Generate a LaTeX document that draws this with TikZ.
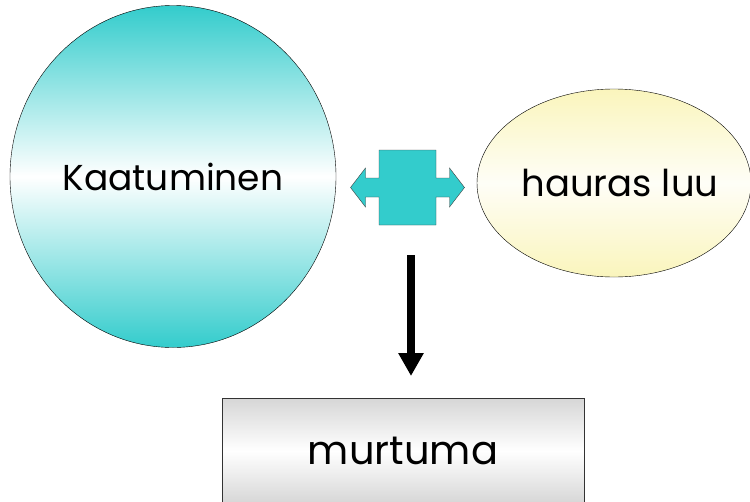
\documentclass[tikz,border=0pt]{standalone}
\usepackage{fontspec}
\setmainfont{Poppins}
\usepackage{tikz}
\usetikzlibrary{shapes.geometric,arrows.meta,positioning}
\definecolor{turkoosi}{RGB}{51,204,204}
\definecolor{keltainen}{RGB}{250,245,188}
\definecolor{harmaa}{RGB}{214,214,214}
% liukuvarit: reunat värillisiä, keskikohta vaalea
\pgfdeclareverticalshading{turkoosivarjo}{100bp}{color(0bp)=(turkoosi); color(25bp)=(turkoosi); color(50bp)=(white); color(75bp)=(turkoosi); color(100bp)=(turkoosi)}
\pgfdeclareverticalshading{keltavarjo}{100bp}{color(0bp)=(keltainen); color(25bp)=(keltainen); color(50bp)=(white!70!keltainen!40!white); color(75bp)=(keltainen); color(100bp)=(keltainen)}
\pgfdeclareverticalshading{harmaavarjo}{100bp}{color(0bp)=(harmaa); color(25bp)=(harmaa); color(50bp)=(white); color(75bp)=(harmaa); color(100bp)=(harmaa)}
\tikzset{
  teksti/.style={font=\fontsize{36}{42}\selectfont},
  pallo/.style={ellipse,draw=black,thin,inner sep=0pt,teksti},
  laatikko/.style={rectangle,draw=gray!40!black,line width=1pt,shading=harmaavarjo,font=\fontsize{40}{46}\selectfont},
  nuoli/.style={line width=8pt,-{Triangle[width=24pt,length=23pt]}},
  kaksoisnuoli/.style={fill=turkoosi,draw=gray!50!black,thin}
}

\begin{document}
\begin{tikzpicture}[x=1pt,y=-1pt]
\useasboundingbox (0,0) rectangle (750,501);
\clip (0,0) rectangle (750,501);
% syy ja altistava tekijä
\node[pallo,shading=turkoosivarjo,minimum width=326pt,minimum height=342pt] (kaatuminen) at (173,176.5) {Kaatuminen};
\node[pallo,shading=keltavarjo,minimum width=274pt,minimum height=188pt,font=\fontsize{37}{43}\selectfont] (luu) at (614,183) {\makebox[180pt]{\hspace*{12pt}hauras luu}};
% seuraus
\node[laatikko,minimum width=362pt,minimum height=106pt] (murtuma) at (403,451) {murtuma};
% kaksisuuntainen nuoli
\coordinate (linkki) at (407.5,187.5);
\begin{scope}[shift={(linkki)}]
\draw[kaksoisnuoli] (-28.5,-37.5) -- (28.5,-37.5) -- (28.5,-9.5) -- (42,-9.5) -- (42,-19.5)
  -- (57,0) -- (42,19.5) -- (42,9.5) -- (28.5,9.5) -- (28.5,37.5) -- (-28.5,37.5)
  -- (-28.5,9.5) -- (-42,9.5) -- (-42,19.5) -- (-57,0) -- (-42,-19.5) -- (-42,-9.5)
  -- (-28.5,-9.5) -- cycle;
\end{scope}
\draw[nuoli,shorten <=67.5pt,shorten >=21.5pt] ([xshift=3.5pt]linkki) -- ([xshift=3.5pt]linkki |- murtuma.north);
\end{tikzpicture}
\end{document}
